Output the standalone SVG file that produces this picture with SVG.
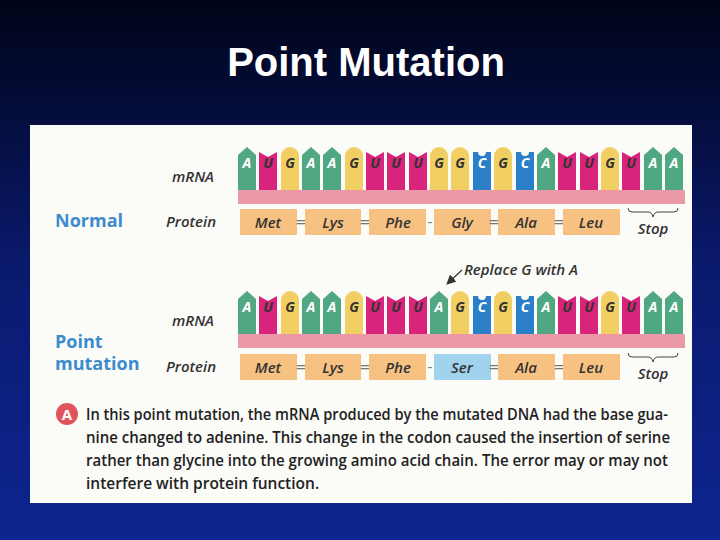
<svg xmlns="http://www.w3.org/2000/svg" xmlns:xlink="http://www.w3.org/1999/xlink" width="720" height="540" viewBox="0 0 720 540">
<defs>
<linearGradient id="bg" x1="0" y1="0" x2="0" y2="1"><stop offset="0" stop-color="#000418"/><stop offset="0.5" stop-color="#0a1a6e"/><stop offset="1" stop-color="#0d2590"/></linearGradient>
<g id="A"><path d="M-9,37 V-5 L0,-13 L9,-5 V37 Z" fill="#4fa882"/><text y="8" class="bl" fill="#fff">A</text></g>
<g id="G"><path d="M-9,37 V-4 A9,9 0 0 1 9,-4 V37 Z" fill="#f2cf63"/><text y="8" class="bl" fill="#333">G</text></g>
<g id="U"><path d="M-9,37 V-8 L0,-3 L9,-8 V37 Z" fill="#d8247a"/><text y="8" class="bl" fill="#333">U</text></g>
<g id="C"><path d="M-9,37 V-8 L-4,-8 A4,4 0 0 0 4,-8 L9,-8 V37 Z" fill="#2a7fc8"/><text y="8" class="bl" fill="#fff">C</text></g>
<marker id="ar" markerWidth="8" markerHeight="8" refX="6" refY="4" orient="auto"><path d="M0,0 L8,4 L0,8 Z" fill="#333"/></marker>
</defs>
<style>
.bl{font-family:"Open Sans","DejaVu Sans",sans-serif;font-size:14px;font-style:italic;font-weight:bold;text-anchor:middle}
.lab{font-family:"Open Sans","DejaVu Sans",sans-serif;font-size:15px;font-style:italic;font-weight:600;fill:#333}
.pb{fill:#f6c181}
.pt{font-family:"Open Sans","DejaVu Sans",sans-serif;font-size:15px;font-style:italic;font-weight:600;fill:#333;text-anchor:middle}
.eq{font-family:"DejaVu Sans",sans-serif;font-size:14px;fill:#777;text-anchor:middle}
.hd{font-family:"Open Sans","DejaVu Sans",sans-serif;font-size:18px;font-weight:bold;fill:#3c8ccc}
.cap{font-family:"Open Sans","DejaVu Sans",sans-serif;font-size:15.5px;font-weight:600;fill:#222}
</style>
<rect width="720" height="540" fill="url(#bg)"/>
<text x="366" y="76" text-anchor="middle" font-family="Liberation Sans,Arial,sans-serif" font-size="40" font-weight="bold" fill="#fff">Point Mutation</text>
<rect x="30" y="125" width="662" height="378" fill="#fbfbf8"/>

<g id="normal">
<text x="55" y="227" class="hd">Normal</text>
<text x="172" y="182" class="lab">mRNA</text>
<text x="166" y="227" class="lab">Protein</text>
<g transform="translate(0,160)">
<use href="#A" x="247"/><use href="#U" x="268"/><use href="#G" x="290"/><use href="#A" x="311"/><use href="#A" x="332"/><use href="#G" x="354"/><use href="#U" x="375"/><use href="#U" x="396"/><use href="#U" x="418"/><use href="#G" x="439"/><use href="#G" x="460"/><use href="#C" x="482"/><use href="#G" x="503"/><use href="#C" x="525"/><use href="#A" x="546"/><use href="#U" x="567"/><use href="#U" x="589"/><use href="#G" x="610"/><use href="#U" x="631"/><use href="#A" x="653"/><use href="#A" x="674"/>
</g>
<rect x="238" y="190" width="447" height="14" fill="#eb99a6"/>
<rect x="240" y="209" width="57" height="26" class="pb"/><text x="268" y="228" class="pt">Met</text>
<text x="301" y="227" class="eq">=</text>
<rect x="305" y="209" width="56" height="26" class="pb"/><text x="333" y="228" class="pt">Lys</text>
<text x="365" y="227" class="eq">=</text>
<rect x="369" y="209" width="57" height="26" class="pb"/><text x="398" y="228" class="pt">Phe</text>
<text x="430" y="227" class="eq">-</text>
<rect x="434" y="209" width="57" height="26" class="pb"/><text x="462" y="228" class="pt">Gly</text>
<text x="494" y="227" class="eq">=</text>
<rect x="498" y="209" width="57" height="26" class="pb"/><text x="526" y="228" class="pt">Ala</text>
<text x="559" y="227" class="eq">=</text>
<rect x="563" y="209" width="57" height="26" class="pb"/><text x="591" y="228" class="pt">Leu</text>
<path d="M628,208 q0,4 4,4 h16 q4,0 5,5 q1,-5 5,-5 h16 q4,0 4,-4" fill="none" stroke="#444" stroke-width="1"/>
<text x="653" y="234" class="pt">Stop</text>
</g>

<g id="replace">
<path d="M462,270 L448,283" stroke="#333" stroke-width="1.2" fill="none" marker-end="url(#ar)"/>
<text x="464" y="275" class="lab">Replace G with A</text>
</g>

<g id="mutation">
<text x="55" y="348" class="hd">Point</text>
<text x="55" y="370" class="hd">mutation</text>
<text x="172" y="326" class="lab">mRNA</text>
<text x="166" y="372" class="lab">Protein</text>
<g transform="translate(0,304)">
<use href="#A" x="247"/><use href="#U" x="268"/><use href="#G" x="290"/><use href="#A" x="311"/><use href="#A" x="332"/><use href="#G" x="354"/><use href="#U" x="375"/><use href="#U" x="396"/><use href="#U" x="418"/><use href="#A" x="439"/><use href="#G" x="460"/><use href="#C" x="482"/><use href="#G" x="503"/><use href="#C" x="525"/><use href="#A" x="546"/><use href="#U" x="567"/><use href="#U" x="589"/><use href="#G" x="610"/><use href="#U" x="631"/><use href="#A" x="653"/><use href="#A" x="674"/>
</g>
<rect x="238" y="334" width="447" height="14" fill="#eb99a6"/>
<rect x="240" y="354" width="57" height="26" class="pb"/><text x="268" y="373" class="pt">Met</text>
<text x="301" y="372" class="eq">=</text>
<rect x="305" y="354" width="56" height="26" class="pb"/><text x="333" y="373" class="pt">Lys</text>
<text x="365" y="372" class="eq">=</text>
<rect x="369" y="354" width="57" height="26" class="pb"/><text x="398" y="373" class="pt">Phe</text>
<text x="430" y="372" class="eq">-</text>
<rect x="434" y="354" width="57" height="26" fill="#9fd3ee"/><text x="462" y="373" class="pt">Ser</text>
<text x="494" y="372" class="eq">=</text>
<rect x="498" y="354" width="57" height="26" class="pb"/><text x="526" y="373" class="pt">Ala</text>
<text x="559" y="372" class="eq">=</text>
<rect x="563" y="354" width="57" height="26" class="pb"/><text x="591" y="373" class="pt">Leu</text>
<path d="M628,353 q0,4 4,4 h16 q4,0 5,5 q1,-5 5,-5 h16 q4,0 4,-4" fill="none" stroke="#444" stroke-width="1"/>
<text x="653" y="379" class="pt">Stop</text>
</g>

<g id="caption">
<circle cx="67" cy="414" r="11" fill="#e2545b"/>
<text x="67" y="420" text-anchor="middle" font-family="Open Sans,DejaVu Sans,sans-serif" font-size="15" font-weight="bold" fill="#fff">A</text>
<text class="cap" x="86" y="420" textLength="582" lengthAdjust="spacingAndGlyphs">In this point mutation, the mRNA produced by the mutated DNA had the base gua-</text>
<text class="cap" x="86" y="443" textLength="584" lengthAdjust="spacingAndGlyphs">nine changed to adenine. This change in the codon caused the insertion of serine</text>
<text class="cap" x="86" y="466" textLength="582" lengthAdjust="spacingAndGlyphs">rather than glycine into the growing amino acid chain. The error may or may not</text>
<text class="cap" x="86" y="489">interfere with protein function.</text>
</g>
</svg>
